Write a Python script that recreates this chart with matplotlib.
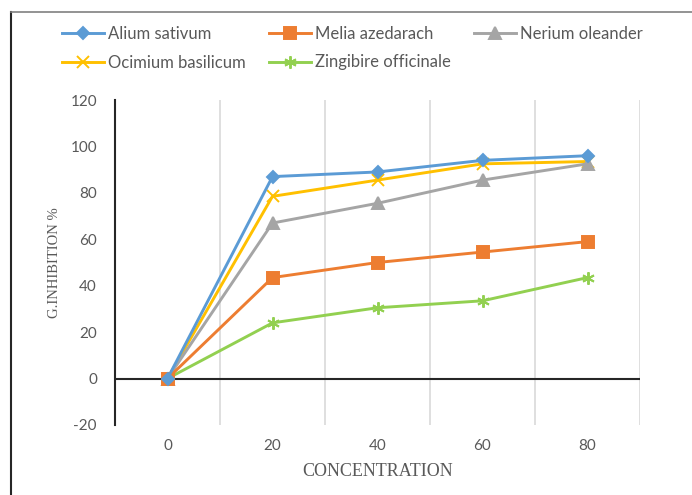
import matplotlib
matplotlib.use("Agg")
import matplotlib.pyplot as plt
from matplotlib.lines import Line2D

plt.rcParams["axes.unicode_minus"] = False

categories = ["0", "20", "40", "60", "80"]
alium = [0, 87, 89, 94, 96]
melia = [0, 43.5, 50, 54.5, 59]
nerium = [0, 67, 75.5, 85.5, 92.5]
ocimium = [0, 78.5, 85.5, 92.5, 93.5]
zingibire = [0, 24, 30.5, 33.5, 43.5]
y_ticks = [-20, 0, 20, 40, 60, 80, 100, 120]

fig = plt.figure(figsize=(6.92, 4.95), dpi=100)
ax = fig.add_axes([115/692, 1-425/495, 525/692, 325/495])

x = list(range(len(categories)))
series = [
    ("Alium sativum", alium, "#5B9BD5", "D", 6),
    ("Melia azedarach", melia, "#ED7D31", "s", 8),
    ("Nerium oleander", nerium, "#A5A5A5", "^", 8),
    ("Ocimium basilicum", ocimium, "#FFC000", "x", 8),
    ("Zingibire officinale", zingibire, "#92D050", (6, 2, 0), 9),
]
handles = {}
for name, vals, col, mk, ms in reversed(series):
    h, = ax.plot(x, vals, color=col, lw=2.1, marker=mk, markersize=ms,
                 markerfacecolor=col, markeredgecolor=col, markeredgewidth=1.4,
                 label=name, zorder=3)
    handles[name] = h

ax.set_xlim(-0.5, len(categories) - 0.5)
ax.set_ylim(-20, 120)
for b in [i + 0.5 for i in range(len(categories))]:
    ax.axvline(b, color="#D9D9D9", lw=1.2, zorder=1)
ax.axhline(0, color="#262626", lw=1.5, zorder=2)

for s in ["top", "right", "bottom"]:
    ax.spines[s].set_visible(False)
ax.spines["left"].set_color("#262626")
ax.spines["left"].set_linewidth(1.5)

ax.set_xticks(x)
ax.set_xticklabels(categories)
ax.set_yticks(y_ticks)
ax.tick_params(axis="both", length=0, labelcolor="#595959", labelsize=11)
ax.tick_params(axis="y", pad=13)
ax.tick_params(axis="x", pad=10)
for lbl in ax.get_xticklabels() + ax.get_yticklabels():
    lbl.set_fontfamily("Lato")

ax.set_xlabel("CONCENTRATION", family="Liberation Serif", fontsize=13,
              color="#595959", labelpad=7)
ax.set_ylabel("G.INHIBITION %", family="Liberation Serif", fontsize=10.5,
              color="#595959", labelpad=7)

order = ["Alium sativum", "Ocimium basilicum", "Melia azedarach",
         "Zingibire officinale", "Nerium oleander"]
leg = fig.legend([handles[n] for n in order], order, ncol=3,
                 loc="upper left", bbox_to_anchor=(62/692, 1-26/495),
                 frameon=False, prop={"family": "Lato", "size": 12},
                 handlelength=2.5, handletextpad=0.25, columnspacing=1.4,
                 labelspacing=0.75, borderaxespad=0, borderpad=0)
for t in leg.get_texts():
    t.set_color("#595959")

fig.add_artist(Line2D([11/692, 11/692], [0, 1-12/495], transform=fig.transFigure,
                      color="#262626", lw=1.5))
fig.add_artist(Line2D([11/692, 1], [1-12/495, 1-12/495], transform=fig.transFigure,
                      color="#808080", lw=1.2))

fig.savefig("out.png", dpi=100)
